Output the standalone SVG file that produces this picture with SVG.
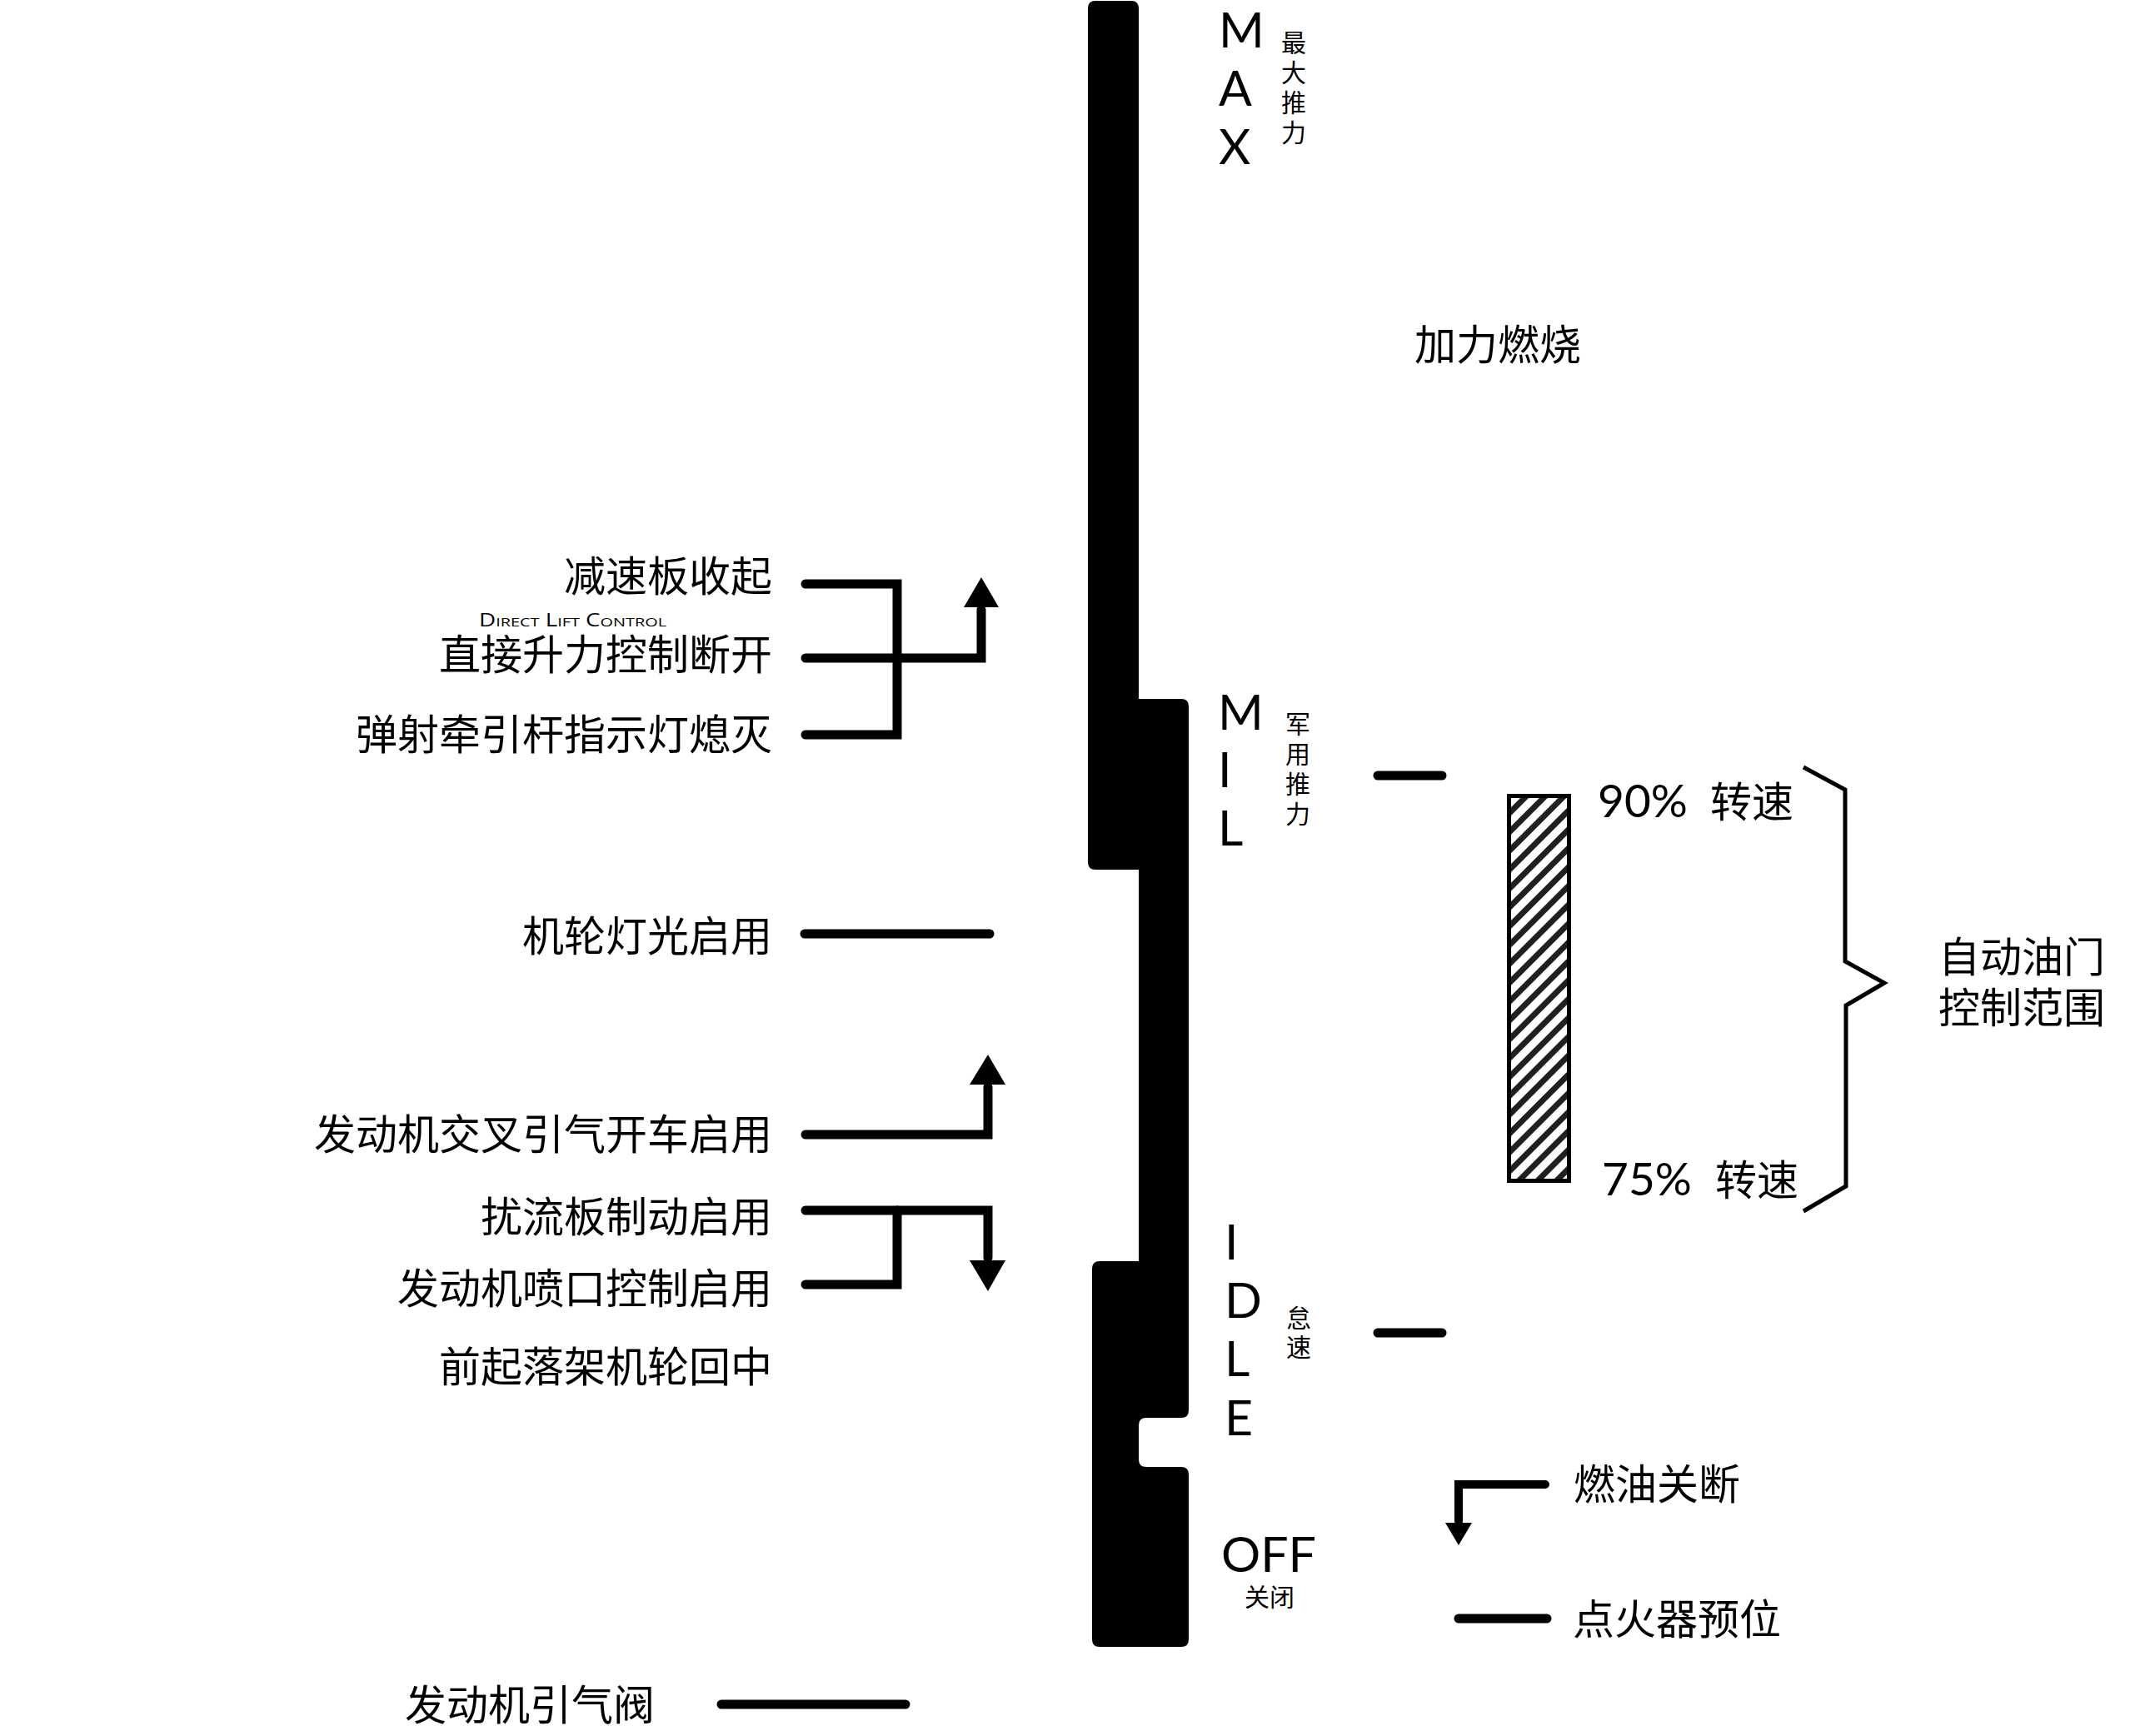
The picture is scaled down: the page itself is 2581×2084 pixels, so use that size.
<svg xmlns="http://www.w3.org/2000/svg" width="2581" height="2084" viewBox="0 0 2581 2084">
<defs>
<style>
.cjk{font-family:"Noto Sans CJK SC","Noto Sans",sans-serif;fill:#000}
.lat{font-family:Lato,"Noto Sans CJK SC",sans-serif;fill:#000}
.big{font-size:50px}
.small{font-size:30px}
.pos{font-size:59px}
.conn{fill:none;stroke:#000;stroke-width:11;stroke-linecap:round;stroke-linejoin:miter}
.thin{fill:none;stroke:#000;stroke-width:10;stroke-linecap:round;stroke-linejoin:miter}
.head{fill:#000;stroke:none}
</style>
<pattern id="hatch" width="16" height="16" patternUnits="userSpaceOnUse" patternTransform="rotate(45)">
<rect x="0" y="0" width="7" height="16" fill="#231f20"/>
</pattern>
</defs>
<rect width="2581" height="2084" fill="#fff"/>

<g id="throttle-bar">
<path d="M1315,1 H1358 Q1367,1 1367,10 V839 H1418 Q1427,839 1427,848 V1693 Q1427,1702 1418,1702 H1376 Q1367,1702 1367,1711 V1752 Q1367,1761 1376,1761 H1418 Q1427,1761 1427,1770 V1968 Q1427,1977 1418,1977 H1320 Q1311,1977 1311,1968 V1523 Q1311,1514 1320,1514 H1367 V1044 H1315 Q1306,1044 1306,1035 V10 Q1306,1 1315,1 Z" fill="#000"/>
</g>

<g id="max">
<text class="lat pos" x="1463" y="57">M</text>
<text class="lat pos" x="1463" y="127">A</text>
<text class="lat pos" x="1463" y="197">X</text>
<g class="cjk small" text-anchor="middle">
<text x="1553" y="62">最</text>
<text x="1553" y="98">大</text>
<text x="1553" y="134">推</text>
<text x="1553" y="170">力</text>
</g>
</g>

<g id="afterburner">
<text class="cjk big" x="1698" y="432">加力燃烧</text>
</g>

<g id="mil">
<text class="lat pos" x="1462" y="876">M</text>
<text class="lat pos" x="1462" y="945">I</text>
<text class="lat pos" x="1462" y="1015">L</text>
<g class="cjk small" text-anchor="middle">
<text x="1558" y="880">军</text>
<text x="1558" y="916">用</text>
<text x="1558" y="952">推</text>
<text x="1558" y="988">力</text>
</g>
</g>

<g id="idle">
<text class="lat pos" x="1470" y="1512">I</text>
<text class="lat pos" x="1470" y="1582">D</text>
<text class="lat pos" x="1470" y="1652">L</text>
<text class="lat pos" x="1470" y="1723">E</text>
<g class="cjk small" text-anchor="middle">
<text x="1559" y="1593">怠</text>
<text x="1559" y="1628">速</text>
</g>
</g>

<g id="off">
<text class="lat pos" x="1466" y="1887">OFF</text>
<text class="cjk small" x="1524" y="1928" text-anchor="middle">关闭</text>
</g>

<g id="autothrottle">
<rect x="1811.5" y="955.5" width="72" height="462" fill="url(#hatch)" stroke="#000" stroke-width="5"/>
<text class="lat" x="1918" y="981" font-size="55">90%</text>
<text class="cjk big" x="2053" y="981">转速</text>
<text class="lat" x="1923" y="1435" font-size="55">75%</text>
<text class="cjk big" x="2059" y="1435">转速</text>
<path d="M2165,921 L2215,948 V1154 L2262,1180 L2216,1207 V1424 L2165,1454" fill="none" stroke="#000" stroke-width="5" stroke-linejoin="miter"/>
<text class="cjk big" x="2327" y="1167">自动油门</text>
<text class="cjk big" x="2327" y="1228">控制范围</text>
</g>

<g id="left-labels" class="cjk big" text-anchor="end">
<text x="927" y="710">减速板收起</text>
<text x="927" y="804">直接升力控制断开</text>
<text x="927" y="900">弹射牵引杆指示灯熄灭</text>
<text x="927" y="1142">机轮灯光启用</text>
<text x="927" y="1380">发动机交叉引气开车启用</text>
<text x="927" y="1479">扰流板制动启用</text>
<text x="927" y="1565">发动机喷口控制启用</text>
<text x="927" y="1659">前起落架机轮回中</text>
<text x="786" y="2065">发动机引气阀</text>
</g>
<g id="dlc-note">
<text x="575" y="752" font-family="'Open Sans','Noto Sans',sans-serif" font-size="21" font-variant="small-caps" textLength="225" lengthAdjust="spacingAndGlyphs">Direct Lift Control</text>
</g>

<g id="right-labels" class="cjk big">
<text x="1889" y="1800">燃油关断</text>
<text x="1888" y="1962">点火器预位</text>
</g>

<g id="connectors">
<path class="conn" d="M967,701 H1077 V882 H967"/>
<path class="conn" d="M967,790 H1178 V732"/>
<polygon class="head" points="1157,729 1199,729 1178,693"/>
<path class="conn" d="M966,1121 H1188"/>
<path class="conn" d="M967,1362 H1186 V1305"/>
<polygon class="head" points="1164,1302 1207,1302 1186,1266"/>
<path class="conn" d="M967,1453 H1186 V1510"/>
<polygon class="head" points="1164,1513 1207,1513 1186,1550"/>
<path class="conn" d="M967,1542 H1077 V1453"/>
<path class="conn" d="M866,2046 H1087"/>
<path class="conn" d="M1654,931 H1731"/>
<path class="conn" d="M1654,1600 H1731"/>
<path class="thin" d="M1855,1782 H1751 V1826"/>
<polygon class="head" points="1735,1828 1767,1828 1751,1855"/>
<path class="conn" d="M1751,1943 H1857"/>
</g>
</svg>
